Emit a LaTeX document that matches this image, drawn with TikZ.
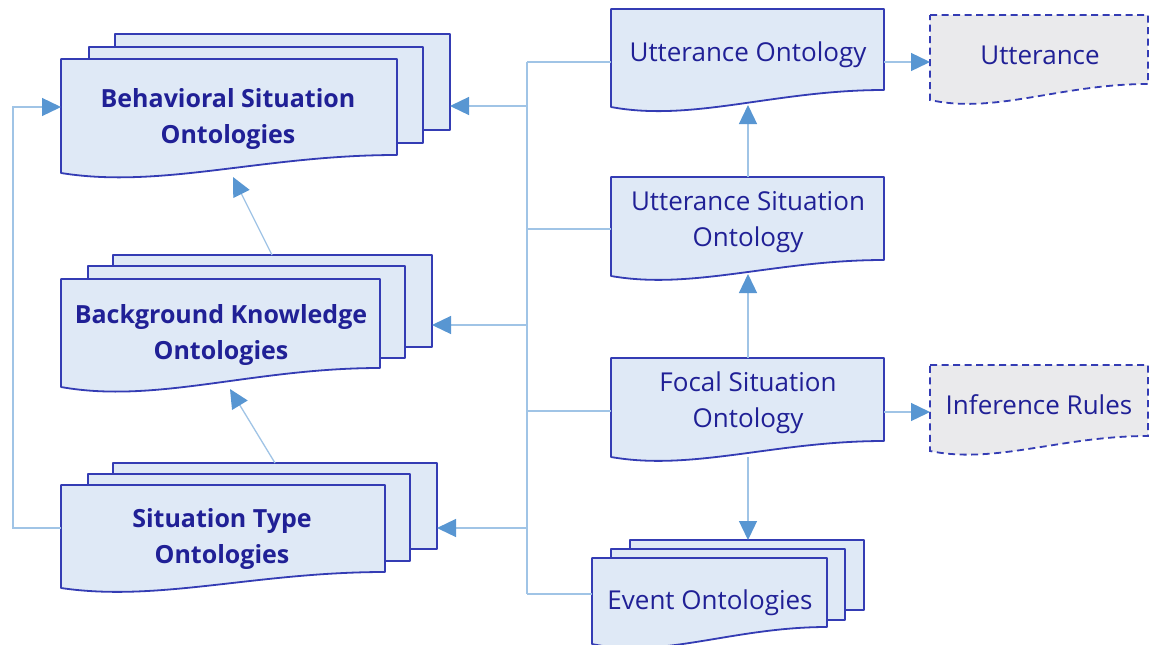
\documentclass[tikz,border=0pt]{standalone}
\usepackage{fontspec}
\setmainfont{Open Sans}
\usetikzlibrary{arrows.meta}

\definecolor{docedge}{RGB}{52,60,180}
\definecolor{docfill}{RGB}{223,233,246}
\definecolor{docgrey}{RGB}{234,234,236}
\definecolor{doctext}{RGB}{32,32,150}
\definecolor{wirecol}{RGB}{160,196,230}
\definecolor{tipcol}{RGB}{88,150,210}

\tikzset{
  page/.style={draw=docedge, fill=docfill, line width=1.8pt, line join=round},
  dashpage/.style={draw=docedge, fill=docgrey, line width=1.8pt, dash pattern=on 7pt off 4.5pt},
  lbl/.style={text=doctext, align=center, font=\fontsize{26}{36}\selectfont, inner sep=0pt},
  blbl/.style={lbl, font=\bfseries\fontsize{25}{36}\selectfont},
  wire/.style={draw=wirecol, line width=1.3pt},
  flow/.style={wire, -{Triangle[length=19pt,width=18pt,color=tipcol]}},
}

% document page with a wavy lower edge:
% \docpage[style]{x1}{y-top}{x2}{y bottom-left}{y bottom-right}
\newcommand\docpage[6][page]{%
  \path[#1] (#2,#3) -- (#4,#3) -- (#4,#6)
    .. controls ({#2+0.6*(#4-#2)},#6) and ({#2+0.3*(#4-#2)},{#5+0.9*(#5-#6)}) .. (#2,#5) -- cycle;
}
% plain page behind a stack
\newcommand\backpage[4]{\path[page] (#1,#2) rectangle (#3,#4);}

\begin{document}
\begin{tikzpicture}[x=1pt,y=-1pt]
\useasboundingbox (0,0) rectangle (1151,645);
\fill[white] (0,0) rectangle (1151,645);

% ---------- stacks on the left ----------
\backpage{115}{34}{450}{130}
\backpage{89}{47}{423}{143}
\docpage{61}{59}{397}{173}{155}

\backpage{113}{255}{432}{347}
\backpage{88}{266}{405}{358}
\docpage{61}{279}{380}{387}{368}

\backpage{113}{463}{437}{549}
\backpage{88}{474}{410}{561}
\docpage{61}{485}{385}{588}{572}

% ---------- pages on the right ----------
\docpage{611}{9}{884}{107}{90}
\docpage{611}{177}{884}{276}{260}
\docpage{611}{358}{884}{457}{441}
\docpage[dashpage]{930}{15}{1148}{100}{84}
\docpage[dashpage]{930}{365}{1148}{451}{436}

\backpage{630}{540}{864}{610}
\backpage{611}{549}{845}{620}
\docpage{592}{558}{827}{644}{627}

% ---------- labels ----------
\node[blbl] (beh) at (228,119) {Behavioral Situation\\Ontologies};
\node[blbl] (bkg) at (221,335) {Background Knowledge\\Ontologies};
\node[blbl] (sit) at (222,539) {Situation Type\\Ontologies};
\node[lbl] (uo) at (748,55) {Utterance Ontology};
\node[lbl] (us) at (748,222) {Utterance Situation\\Ontology};
\node[lbl] (fs) at (748,403) {Focal Situation\\Ontology};
\node[lbl] (utt) at (1040,55) {Utterance};
\node[lbl] (inf) at (1039,405) {Inference Rules};
\node[lbl] (ev) at (710,603) {Event Ontologies};

% ---------- connection points on the page edges ----------
\coordinate (beh-e) at (450,106);
\coordinate (beh-w) at (61,107);
\coordinate (beh-s) at (233,177);
\coordinate (bkg-e) at (432,325);
\coordinate (bkg-n) at (272,255);
\coordinate (bkg-s) at (230,389);
\coordinate (sit-e) at (437,528);
\coordinate (sit-n) at (275,463);
\coordinate (sit-w) at (61,528);
\coordinate (uo-w) at (611,62);
\coordinate (uo-e) at (884,62);
\coordinate (uo-s) at (748,105);
\coordinate (us-w) at (611,229);
\coordinate (us-n) at (748,177);
\coordinate (us-s) at (748,274);
\coordinate (fs-w) at (611,411);
\coordinate (fs-e) at (884,412);
\coordinate (fs-n) at (748,358);
\coordinate (fs-s) at (748,457);
\coordinate (ev-w) at (592,594);
\coordinate (ev-n) at (748,540);
\coordinate (utt-w) at (930,62);
\coordinate (inf-w) at (930,412);
\coordinate (bus-top) at (527,62);
\coordinate (bus-bot) at (527,594);
\coordinate (loop) at (13,528);

% ---------- connectors ----------
\draw[wire] (bus-top) -- (bus-bot);
\draw[wire] (bus-top) -- (uo-w);
\draw[wire] (us-w -| bus-top) -- (us-w);
\draw[wire] (fs-w -| bus-top) -- (fs-w);
\draw[wire] (bus-bot) -- (ev-w);
\draw[flow] (beh-e -| bus-top) -- (beh-e);
\draw[flow] (bkg-e -| bus-top) -- (bkg-e);
\draw[flow] (sit-e -| bus-top) -- (sit-e);

\draw[flow] (uo-e) -- (utt-w);
\draw[flow] (fs-e) -- (inf-w);
\draw[flow] (us-n) -- (uo-s);
\draw[flow] (fs-n) -- (us-s);
\draw[flow] (fs-s) -- (ev-n);

\draw[flow] (bkg-n) -- (beh-s);
\draw[flow] (sit-n) -- (bkg-s);
\draw[flow] (sit-w) -- (loop) |- (beh-w);
\end{tikzpicture}
\end{document}
